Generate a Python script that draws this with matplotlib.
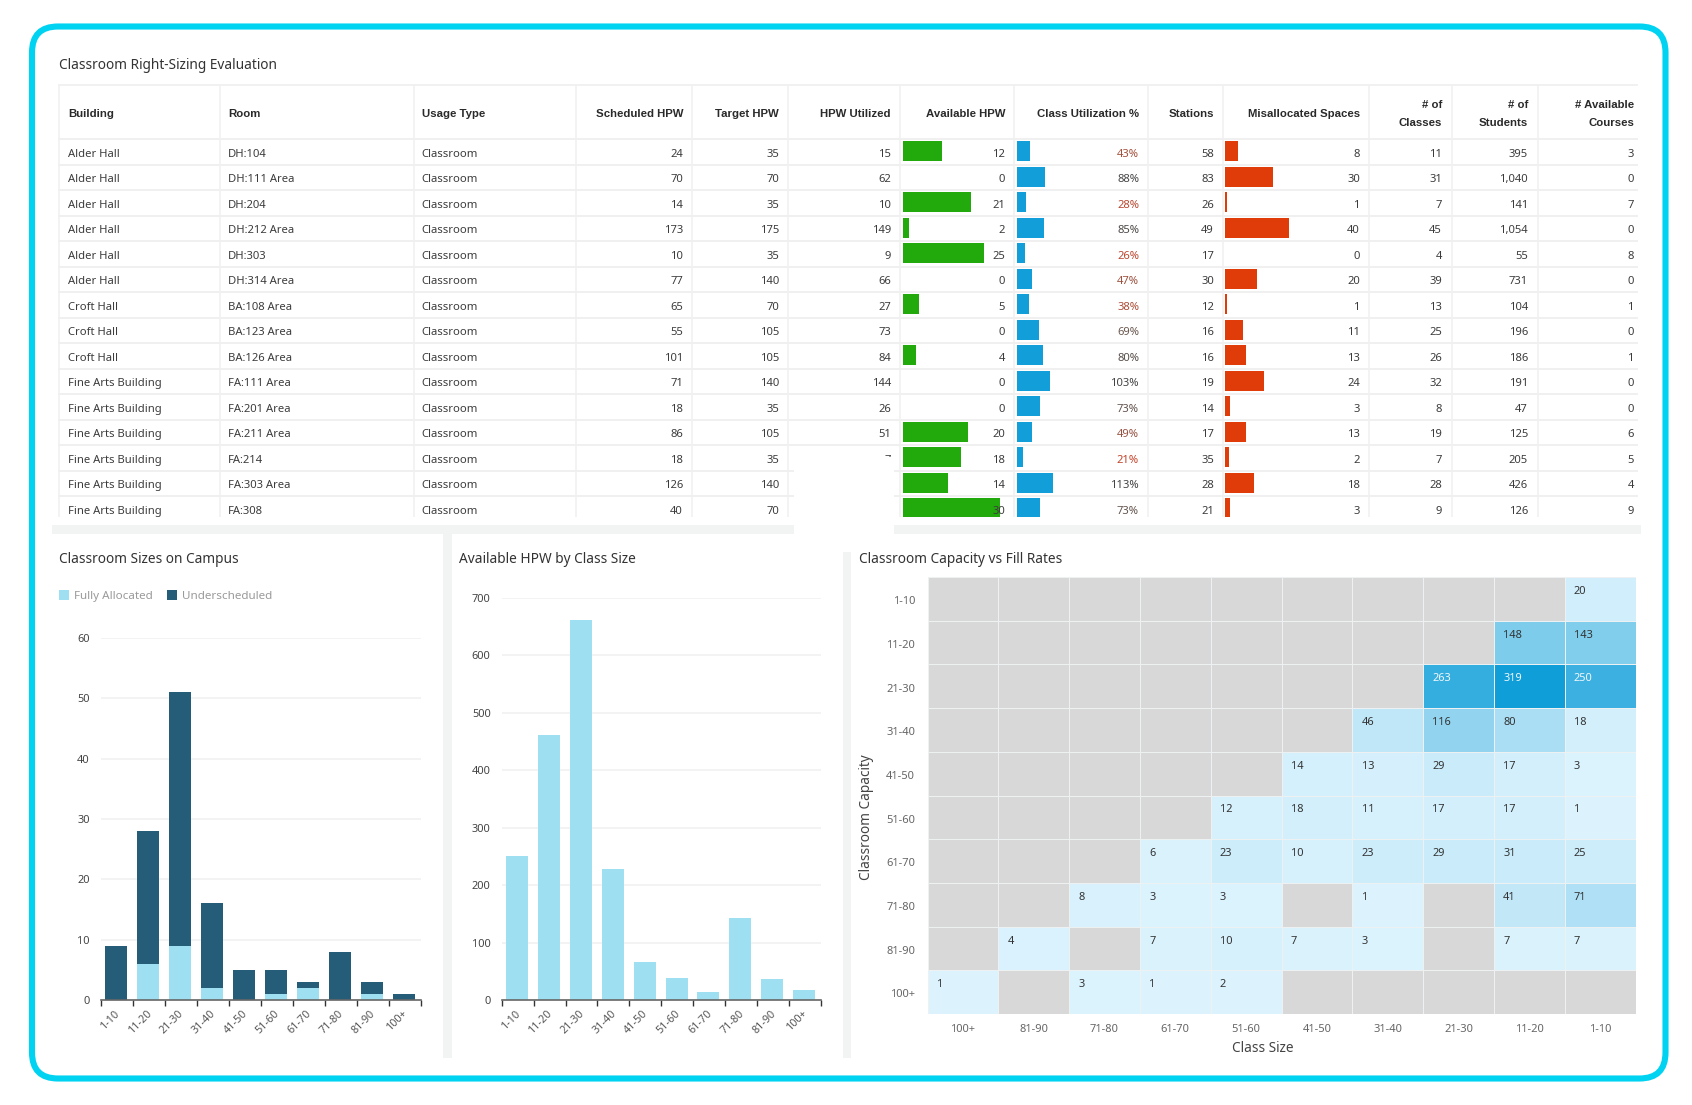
import numpy as np
import matplotlib
matplotlib.use("Agg")
import matplotlib.pyplot as plt
from matplotlib.colors import LinearSegmentedColormap
from matplotlib.patches import FancyBboxPatch, Rectangle

plt.rcParams['font.family'] = ['Noto Sans', 'DejaVu Sans']

W, H = 1692, 1105

# ---------- table data ----------
buildings = ["Alder Hall"]*6 + ["Croft Hall"]*3 + ["Fine Arts Building"]*6
rooms = ["DH:104", "DH:111 Area", "DH:204", "DH:212 Area", "DH:303", "DH:314 Area",
         "BA:108 Area", "BA:123 Area", "BA:126 Area", "FA:111 Area", "FA:201 Area",
         "FA:211 Area", "FA:214", "FA:303 Area", "FA:308"]
usage = ["Classroom"]*15
scheduled = [24, 70, 14, 173, 10, 77, 65, 55, 101, 71, 18, 86, 18, 126, 40]
target = [35, 70, 35, 175, 35, 140, 70, 105, 105, 140, 35, 105, 35, 140, 70]
utilized = [15, 62, 10, 149, 9, 66, 27, 73, 84, 144, 26, 51, 7, None, None]
available = [12, 0, 21, 2, 25, 0, 5, 0, 4, 0, 0, 20, 18, 14, 30]
class_util = [43, 88, 28, 85, 26, 47, 38, 69, 80, 103, 73, 49, 21, 113, 73]
stations = [58, 83, 26, 49, 17, 30, 12, 16, 16, 19, 14, 17, 35, 28, 21]
misallocated = [8, 30, 1, 40, 0, 20, 1, 11, 13, 24, 3, 13, 2, 18, 3]
n_classes = [11, 31, 7, 45, 4, 39, 13, 25, 26, 32, 8, 19, 7, 28, 9]
n_students = [395, 1040, 141, 1054, 55, 731, 104, 196, 186, 191, 47, 125, 205, 426, 126]
n_courses = [3, 0, 7, 0, 8, 0, 1, 0, 1, 0, 0, 6, 5, 4, 9]

# ---------- chart data ----------
size_labels = ["1-10", "11-20", "21-30", "31-40", "41-50", "51-60", "61-70", "71-80", "81-90", "100+"]
fully_allocated = [0, 6, 9, 2, 0, 1, 2, 0, 1, 0]
underscheduled = [9, 22, 42, 14, 5, 4, 1, 8, 2, 1]
available_by_size = [250, 462, 661, 228, 67, 38, 14, 142, 36, 17]

heat_cols = size_labels[::-1]
heat_rows = size_labels
n = np.nan
heat_values = [
    [n, n, n, n, n, n, n, n, n, 20],
    [n, n, n, n, n, n, n, n, 148, 143],
    [n, n, n, n, n, n, n, 263, 319, 250],
    [n, n, n, n, n, n, 46, 116, 80, 18],
    [n, n, n, n, n, 14, 13, 29, 17, 3],
    [n, n, n, n, 12, 18, 11, 17, 17, 1],
    [n, n, n, 6, 23, 10, 23, 29, 31, 25],
    [n, n, 8, 3, 3, n, 1, n, 41, 71],
    [n, 4, n, 7, 10, 7, 3, n, 7, 7],
    [1, n, 3, 1, 2, n, n, n, n, n],
]

# ---------- style ----------
CYAN = "#00d3f2"
STRIP = "#f2f4f4"
LINE = "#f0f0f0"
TXT = "#3c3c3c"
HEAD = "#2a2a2a"
GREEN, BLUE, ORANGE = "#22aa0c", "#129fd9", "#e03c0a"
DARK, LIGHT = "#255c78", "#9fdff2"
FS_BODY = 8.1
FS_TITLE = 9.85
HEAD_FONT = dict(family=["Liberation Sans", "DejaVu Sans"], fontweight="bold", fontsize=8.2)


def px_axes(fig, x0, y0, x1, y1, **kw):
    return fig.add_axes([x0/W, 1-y1/H, (x1-x0)/W, (y1-y0)/H], **kw)


fig = plt.figure(figsize=(W/100, H/100), dpi=100, facecolor="white")

# background page, pixel coordinates
bg = px_axes(fig, 0, 0, W, H, zorder=0)
bg.set_xlim(0, W); bg.set_ylim(H, 0); bg.axis("off")
bg.add_patch(FancyBboxPatch((32, 26.5), 1633.5, 1052, boxstyle="round,pad=0,rounding_size=26",
                            fc="white", ec=CYAN, lw=4.4))
for x0, y0, x1, y1 in [(52, 525, 794, 534), (894, 525, 1641, 534),
                       (443, 534, 452, 1058), (843, 552, 851, 1058)]:
    bg.add_patch(Rectangle((x0, y0), x1-x0, y1-y0, fc=STRIP, ec="none"))

# table grid
T_L, T_R, T_T, T_H, T_B = 59, 1637, 85, 139.3, 517
ROW_H = 25.5
col_edges = [59, 219.5, 413.5, 576, 692, 787.5, 900, 1014, 1148, 1223, 1369, 1451.5, 1537.5]
for x in col_edges:
    bg.plot([x, x], [T_T, T_B], color=LINE, lw=1.1, solid_capstyle="butt")
bg.plot([T_L, T_R], [T_T, T_T], color=LINE, lw=1.3)
for i in range(15):
    y = T_H + ROW_H*i
    bg.plot([T_L, T_R], [y, y], color=LINE, lw=1.4)

# in-cell bars, sharing the table's row scale
rows = np.arange(15)
row_limits = (-0.5 + (T_B-T_H)/ROW_H + 0.03, -0.5 + 0.03)
for x0, x1, px_per_unit, vals, col in [(902.6, 1014, 3.25, available, GREEN),
                                       (1016.5, 1148, 0.325, class_util, BLUE),
                                       (1225.4, 1369, 1.59, misallocated, ORANGE)]:
    ax = px_axes(fig, x0, T_H, x1, T_B, zorder=1)
    ax.patch.set_alpha(0)
    ax.barh(rows, vals, height=0.79, color=col, edgecolor="none")
    ax.set_xlim(0, (x1-x0)/px_per_unit)
    ax.set_ylim(*row_limits)
    ax.axis("off")

# table text
tx = px_axes(fig, 0, 0, W, H, zorder=2)
tx.set_xlim(0, W); tx.set_ylim(H, 0); tx.axis("off"); tx.patch.set_alpha(0)

tx.text(59, 65.5, "Classroom Right-Sizing Evaluation", fontsize=FS_TITLE, color="#333333", va="center")

left_cols = [(68, "Building", buildings), (227.5, "Room", rooms), (421.5, "Usage Type", usage)]
fmt = lambda v: "" if v is None else f"{v:,}"
right_cols = [
    (683, ["Scheduled HPW"], scheduled), (779, ["Target HPW"], target),
    (891, ["HPW Utilized"], utilized), (1005, ["Available HPW"], available),
    (1139, ["Class Utilization %"], class_util), (1214, ["Stations"], stations),
    (1360, ["Misallocated Spaces"], misallocated), (1442, ["# of", "Classes"], n_classes),
    (1528, ["# of", "Students"], n_students), (1634, ["# Available", "Courses"], n_courses),
]
row_y = [T_H + ROW_H*(i+0.5) + 2.0 for i in range(15)]
for x, head, vals in left_cols:
    tx.text(x+0.7, 114, head, color=HEAD, va="center", **HEAD_FONT)
    for y, v in zip(row_y, vals):
        tx.text(x, y, v, fontsize=FS_BODY, color=TXT, va="center")

util_cmap = LinearSegmentedColormap.from_list("u", ["#c4452c", "#a4503c", "#6e5a50", "#444444"])
for x, head, vals in right_cols:
    if len(head) == 1:
        tx.text(x, 114, head[0], color=HEAD, va="center", ha="right", **HEAD_FONT)
    else:
        tx.text(x, 105, head[0], color=HEAD, va="center", ha="right", **HEAD_FONT)
        tx.text(x, 123.5, head[1], color=HEAD, va="center", ha="right", **HEAD_FONT)
    for y, v in zip(row_y, vals):
        if v is None:
            continue
        if vals is class_util:
            tx.text(x, y, f"{v}%", fontsize=FS_BODY, va="center", ha="right",
                    color=util_cmap(np.clip((v-20)/70, 0, 1)))
        else:
            tx.text(x, y, fmt(v), fontsize=FS_BODY, color=TXT, va="center", ha="right")

# panel overlapping the table
tx.add_patch(Rectangle((794, 457), 100, 68, fc="white", ec="none", zorder=5))

# panel titles
tx.text(59, 559.5, "Classroom Sizes on Campus", fontsize=FS_TITLE, color="#333333", va="center")
tx.text(459, 559.5, "Available HPW by Class Size", fontsize=FS_TITLE, color="#333333", va="center")
tx.text(859, 559.5, "Classroom Capacity vs Fill Rates", fontsize=FS_TITLE, color="#333333", va="center")


def style_bar_axes(ax, ymax, step):
    centres = np.arange(10) + 0.5
    ax.set_xlim(0, 10)
    ax.set_ylim(0, ymax)
    ax.set_xticks(np.arange(11))
    ax.set_xticklabels([])
    ax.set_xticks(centres - 0.08, minor=True)
    ax.set_xticklabels(size_labels, minor=True, rotation=45, ha="right",
                       rotation_mode="anchor", fontsize=7.8, color="#555555")
    ax.tick_params(axis="x", which="major", length=4, width=1, color="#333333")
    ax.tick_params(axis="x", which="minor", length=0, pad=6)
    ax.set_yticks(np.arange(0, ymax+1, step))
    ax.tick_params(axis="y", length=0, pad=8, labelsize=7.9, labelcolor="#444444")
    ax.grid(axis="y", color="#f0f0f0", lw=1.1)
    ax.set_axisbelow(True)
    for s in ("top", "left", "right"):
        ax.spines[s].set_visible(False)
    ax.spines["bottom"].set_color("#666666")
    ax.spines["bottom"].set_linewidth(1.2)
    ax.patch.set_alpha(0)


# stacked bars
a1 = px_axes(fig, 100.7, 638, 420.7, 1000, zorder=1)
pos = np.arange(10) + 0.48
a1.bar(pos, fully_allocated, width=0.69, color=LIGHT, label="Fully Allocated")
a1.bar(pos, underscheduled, width=0.69, bottom=fully_allocated, color=DARK, label="Underscheduled")
style_bar_axes(a1, 60, 10)
leg = a1.legend(loc="lower left", bbox_to_anchor=(59/W, 1-602/H), bbox_transform=fig.transFigure,
                ncol=2, frameon=False, fontsize=8.4, labelcolor="#9a9a9a", handlelength=0.86,
                handleheight=0.86, handletextpad=0.42, columnspacing=1.25, borderpad=0, borderaxespad=0)

# single bars
a2 = px_axes(fig, 501.7, 598, 820.7, 1000, zorder=1)
a2.bar(pos, available_by_size, width=0.69, color=LIGHT)
style_bar_axes(a2, 700, 100)

# heatmap
a3 = px_axes(fig, 927.5, 577, 1635.5, 1014, zorder=1)
cmap = LinearSegmentedColormap.from_list("fill", ["#dcf3fd", "#109ed8"])
cmap.set_bad("#d8d8d8")
data = np.ma.masked_invalid(np.array(heat_values, dtype=float))
a3.pcolormesh(data, cmap=cmap, vmin=1, vmax=319, edgecolors="#eef1f2", linewidth=0.5)
a3.set_ylim(10, 0)
a3.set_xlim(0, 10)
a3.set_xticks(np.arange(10)+0.5, heat_cols)
a3.set_yticks(np.arange(10)+0.53, heat_rows)
a3.tick_params(length=0, labelsize=8, labelcolor="#666666", pad=9)
a3.tick_params(axis="x", pad=7)
for s in a3.spines.values():
    s.set_visible(False)
a3.set_xlabel("Class Size", fontsize=9.8, color="#444444")
a3.set_ylabel("Classroom Capacity", fontsize=9.8, color="#444444")
a3.xaxis.set_label_coords(0.473, -0.062)
a3.yaxis.set_label_coords(-0.075, 0.45)
for r, row in enumerate(heat_values):
    for c, v in enumerate(row):
        if not np.isnan(v):
            a3.text(c+0.13, r+0.33, f"{int(v)}", fontsize=7.9, va="center", ha="left",
                    color="#f2f8fb" if v >= 250 else "#333333")

fig.savefig("out.png", dpi=100, facecolor="white")
